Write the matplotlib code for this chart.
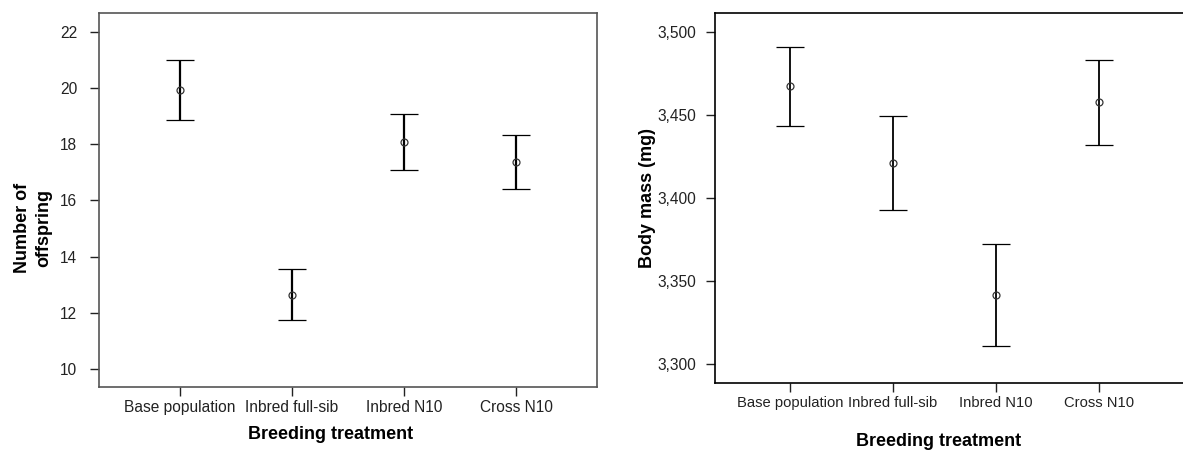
import numpy as np
import matplotlib as mpl

mpl.use("Agg")
import matplotlib.pyplot as plt
from matplotlib.ticker import FuncFormatter

###############################################################################

treatments = ["Base population", "Inbred full-sib", "Inbred N10", "Cross N10"]

# number of offspring: mean, lower and upper end of the error bar
offspring_mean = [19.94, 12.64, 18.08, 17.36]
offspring_low = [18.87, 11.73, 17.09, 16.39]
offspring_high = [21.00, 13.57, 19.09, 18.33]

# body mass (mg)
mass_mean = [3.4674, 3.4211, 3.3418, 3.4576]
mass_low = [3.4435, 3.3930, 3.3109, 3.4319]
mass_high = [3.4910, 3.4493, 3.3724, 3.4832]

offspring_ticks = [10, 12, 14, 16, 18, 20, 22]
mass_ticks = [3.300, 3.350, 3.400, 3.450, 3.500]

###############################################################################

plt.rcParams.update({"font.family": ["Liberation Sans", "DejaVu Sans"]})

text_color = "#222222"
tick_size = 11.2
label_size = 13

W, H = 1183, 451
fig = plt.figure(figsize=(W / 100, H / 100), dpi=100)


def px_axes(x0, y0, x1, y1):
    return fig.add_axes([x0 / W, 1 - y1 / H, (x1 - x0) / W, (y1 - y0) / H])


def draw_panel(ax, mean, low, high, lw, spine_color):
    x = np.arange(len(treatments))
    mean = np.array(mean)
    yerr = [mean - np.array(low), np.array(high) - mean]
    ax.errorbar(
        x,
        mean,
        yerr=yerr,
        fmt="o",
        color="black",
        ecolor="black",
        elinewidth=lw,
        capsize=10.4,
        capthick=lw,
        markersize=5,
        markerfacecolor="none",
        markeredgecolor="#333333",
        markeredgewidth=0.9,
    )
    ax.set_xticks(x)
    ax.set_xticklabels(treatments)
    for s in ax.spines.values():
        s.set_color(spine_color)
        s.set_linewidth(1.2)
    ax.tick_params(
        axis="both",
        length=6.5,
        width=1,
        color=text_color,
        labelcolor=text_color,
        labelsize=tick_size,
    )
    ax.tick_params(axis="x", pad=3)


# left panel
ax1 = px_axes(98.7, 12.7, 596.7, 387.3)
draw_panel(ax1, offspring_mean, offspring_low, offspring_high, 1.6, "#555555")
ax1.set_xlim(-0.726, 3.72)
ax1.set_ylim(9.35, 22.68)
ax1.set_yticks(offspring_ticks)
ax1.tick_params(axis="y", pad=9)
ax1.set_ylabel(
    "Number of\noffspring",
    fontsize=label_size,
    weight="bold",
    linespacing=1.3,
    color="black",
)
ax1.yaxis.set_label_coords(-0.094, 0.425)
ax1.set_xlabel("Breeding treatment", fontsize=label_size, weight="bold", color="black")
ax1.xaxis.set_label_coords(0.466, -0.103)

# right panel (its right border falls outside the picture)
ax2 = px_axes(715.3, 12.7, 1190, 383)
draw_panel(ax2, mass_mean, mass_low, mass_high, 1.3, "black")
ax2.set_xlim(-0.725, 3.883)
ax2.set_ylim(3.2888, 3.5114)
ax2.set_yticks(mass_ticks)
ax2.yaxis.set_major_formatter(FuncFormatter(lambda v, p: f"{v:.3f}".replace(".", ",")))
ax2.tick_params(axis="y", pad=7)
ax2.tick_params(axis="x", labelsize=10.6)
ax2.set_ylabel("Body mass (mg)", fontsize=label_size, weight="bold", color="black")
ax2.yaxis.set_label_coords(-0.125, 0.5)
ax2.set_xlabel("Breeding treatment", fontsize=label_size, weight="bold", color="black")
ax2.xaxis.set_label_coords(0.471, -0.135)

###############################################################################

plt.savefig("out.png", dpi=100)
plt.close()
